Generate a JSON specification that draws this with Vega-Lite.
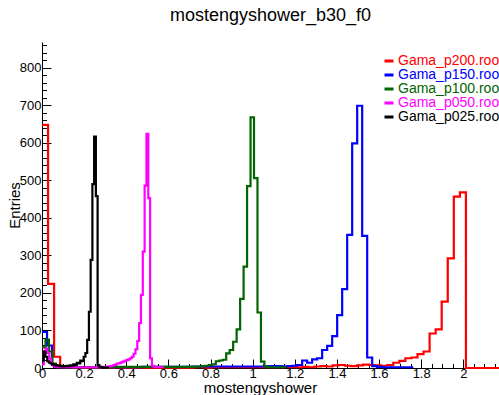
{
  "$schema": "https://vega.github.io/schema/vega-lite/v6.json",
  "width": 457,
  "height": 326,
  "autosize": "none",
  "padding": {"left": 42, "top": 42, "right": 0, "bottom": 27},
  "background": "white",
  "config": {"view": {"stroke": null}, "font": "Liberation Sans"},
  "title": {"text": "mostengyshower_b30_f0", "fontSize": 18, "font": "Liberation Sans", "fontWeight": "normal", "anchor": "middle", "offset": 17, "color": "black"},
  "data": {"values": [
    {"s": "Gama_p200.root", "x": 0, "n": 648},
    {"s": "Gama_p200.root", "x": 0.02875, "n": 224},
    {"s": "Gama_p200.root", "x": 0.0575, "n": 30},
    {"s": "Gama_p200.root", "x": 0.08625, "n": 3},
    {"s": "Gama_p200.root", "x": 0.115, "n": 2},
    {"s": "Gama_p200.root", "x": 0.14375, "n": 1},
    {"s": "Gama_p200.root", "x": 0.345, "n": 2},
    {"s": "Gama_p200.root", "x": 0.37375, "n": 1},
    {"s": "Gama_p200.root", "x": 0.71875, "n": 2},
    {"s": "Gama_p200.root", "x": 0.77625, "n": 1},
    {"s": "Gama_p200.root", "x": 0.805, "n": 2},
    {"s": "Gama_p200.root", "x": 1.15, "n": 3},
    {"s": "Gama_p200.root", "x": 1.17875, "n": 2},
    {"s": "Gama_p200.root", "x": 1.23625, "n": 3},
    {"s": "Gama_p200.root", "x": 1.265, "n": 2},
    {"s": "Gama_p200.root", "x": 1.29375, "n": 4},
    {"s": "Gama_p200.root", "x": 1.3225, "n": 5},
    {"s": "Gama_p200.root", "x": 1.35125, "n": 4},
    {"s": "Gama_p200.root", "x": 1.38, "n": 7},
    {"s": "Gama_p200.root", "x": 1.40875, "n": 8},
    {"s": "Gama_p200.root", "x": 1.4375, "n": 6},
    {"s": "Gama_p200.root", "x": 1.46625, "n": 5},
    {"s": "Gama_p200.root", "x": 1.495, "n": 7},
    {"s": "Gama_p200.root", "x": 1.52375, "n": 9},
    {"s": "Gama_p200.root", "x": 1.5525, "n": 8},
    {"s": "Gama_p200.root", "x": 1.58125, "n": 7},
    {"s": "Gama_p200.root", "x": 1.61, "n": 6},
    {"s": "Gama_p200.root", "x": 1.63875, "n": 8},
    {"s": "Gama_p200.root", "x": 1.6675, "n": 14},
    {"s": "Gama_p200.root", "x": 1.69625, "n": 19},
    {"s": "Gama_p200.root", "x": 1.725, "n": 26},
    {"s": "Gama_p200.root", "x": 1.75375, "n": 28},
    {"s": "Gama_p200.root", "x": 1.7825, "n": 37},
    {"s": "Gama_p200.root", "x": 1.81125, "n": 44},
    {"s": "Gama_p200.root", "x": 1.84, "n": 92},
    {"s": "Gama_p200.root", "x": 1.86875, "n": 103},
    {"s": "Gama_p200.root", "x": 1.8975, "n": 177},
    {"s": "Gama_p200.root", "x": 1.92625, "n": 292},
    {"s": "Gama_p200.root", "x": 1.955, "n": 457},
    {"s": "Gama_p200.root", "x": 1.98375, "n": 468},
    {"s": "Gama_p200.root", "x": 2.0125, "n": 0},
    {"s": "Gama_p200.root", "x": 2.3, "n": 0},

    {"s": "Gama_p150.root", "x": 0, "n": 96},
    {"s": "Gama_p150.root", "x": 0.02375, "n": 60},
    {"s": "Gama_p150.root", "x": 0.0475, "n": 8},
    {"s": "Gama_p150.root", "x": 0.07125, "n": 3},
    {"s": "Gama_p150.root", "x": 0.095, "n": 2},
    {"s": "Gama_p150.root", "x": 0.475, "n": 3},
    {"s": "Gama_p150.root", "x": 0.7125, "n": 4},
    {"s": "Gama_p150.root", "x": 1.06875, "n": 5},
    {"s": "Gama_p150.root", "x": 1.14, "n": 4},
    {"s": "Gama_p150.root", "x": 1.16375, "n": 5},
    {"s": "Gama_p150.root", "x": 1.1875, "n": 6},
    {"s": "Gama_p150.root", "x": 1.21125, "n": 8},
    {"s": "Gama_p150.root", "x": 1.235, "n": 20},
    {"s": "Gama_p150.root", "x": 1.25875, "n": 14},
    {"s": "Gama_p150.root", "x": 1.2825, "n": 23},
    {"s": "Gama_p150.root", "x": 1.30625, "n": 26},
    {"s": "Gama_p150.root", "x": 1.33, "n": 48},
    {"s": "Gama_p150.root", "x": 1.35375, "n": 59},
    {"s": "Gama_p150.root", "x": 1.3775, "n": 85},
    {"s": "Gama_p150.root", "x": 1.40125, "n": 141},
    {"s": "Gama_p150.root", "x": 1.425, "n": 210},
    {"s": "Gama_p150.root", "x": 1.44875, "n": 355},
    {"s": "Gama_p150.root", "x": 1.4725, "n": 599},
    {"s": "Gama_p150.root", "x": 1.49625, "n": 699},
    {"s": "Gama_p150.root", "x": 1.52, "n": 352},
    {"s": "Gama_p150.root", "x": 1.54375, "n": 28},
    {"s": "Gama_p150.root", "x": 1.5675, "n": 5},
    {"s": "Gama_p150.root", "x": 1.59125, "n": 3},
    {"s": "Gama_p150.root", "x": 1.615, "n": 2},
    {"s": "Gama_p150.root", "x": 1.7575, "n": 0},

    {"s": "Gama_p100.root", "x": 0, "n": 55},
    {"s": "Gama_p100.root", "x": 0.0165, "n": 76},
    {"s": "Gama_p100.root", "x": 0.033, "n": 44},
    {"s": "Gama_p100.root", "x": 0.0495, "n": 12},
    {"s": "Gama_p100.root", "x": 0.066, "n": 5},
    {"s": "Gama_p100.root", "x": 0.0825, "n": 3},
    {"s": "Gama_p100.root", "x": 0.099, "n": 2},
    {"s": "Gama_p100.root", "x": 0.33, "n": 3},
    {"s": "Gama_p100.root", "x": 0.726, "n": 4},
    {"s": "Gama_p100.root", "x": 0.759, "n": 5},
    {"s": "Gama_p100.root", "x": 0.7755, "n": 6},
    {"s": "Gama_p100.root", "x": 0.792, "n": 8},
    {"s": "Gama_p100.root", "x": 0.8085, "n": 10},
    {"s": "Gama_p100.root", "x": 0.825, "n": 18},
    {"s": "Gama_p100.root", "x": 0.8415, "n": 20},
    {"s": "Gama_p100.root", "x": 0.858, "n": 22},
    {"s": "Gama_p100.root", "x": 0.8745, "n": 39},
    {"s": "Gama_p100.root", "x": 0.891, "n": 48},
    {"s": "Gama_p100.root", "x": 0.9075, "n": 70},
    {"s": "Gama_p100.root", "x": 0.924, "n": 103},
    {"s": "Gama_p100.root", "x": 0.9405, "n": 184},
    {"s": "Gama_p100.root", "x": 0.957, "n": 270},
    {"s": "Gama_p100.root", "x": 0.9735, "n": 485},
    {"s": "Gama_p100.root", "x": 0.99, "n": 668},
    {"s": "Gama_p100.root", "x": 1.0065, "n": 506},
    {"s": "Gama_p100.root", "x": 1.023, "n": 148},
    {"s": "Gama_p100.root", "x": 1.0395, "n": 17},
    {"s": "Gama_p100.root", "x": 1.056, "n": 4},
    {"s": "Gama_p100.root", "x": 1.0725, "n": 2},
    {"s": "Gama_p100.root", "x": 1.155, "n": 0},

    {"s": "Gama_p050.root", "x": 0, "n": 10},
    {"s": "Gama_p050.root", "x": 0.0087, "n": 45},
    {"s": "Gama_p050.root", "x": 0.0174, "n": 52},
    {"s": "Gama_p050.root", "x": 0.0261, "n": 40},
    {"s": "Gama_p050.root", "x": 0.0348, "n": 25},
    {"s": "Gama_p050.root", "x": 0.0435, "n": 12},
    {"s": "Gama_p050.root", "x": 0.0522, "n": 6},
    {"s": "Gama_p050.root", "x": 0.0609, "n": 3},
    {"s": "Gama_p050.root", "x": 0.0696, "n": 2},
    {"s": "Gama_p050.root", "x": 0.2784, "n": 3},
    {"s": "Gama_p050.root", "x": 0.3045, "n": 4},
    {"s": "Gama_p050.root", "x": 0.3219, "n": 5},
    {"s": "Gama_p050.root", "x": 0.3306, "n": 6},
    {"s": "Gama_p050.root", "x": 0.3393, "n": 8},
    {"s": "Gama_p050.root", "x": 0.348, "n": 10},
    {"s": "Gama_p050.root", "x": 0.3567, "n": 12},
    {"s": "Gama_p050.root", "x": 0.3654, "n": 13},
    {"s": "Gama_p050.root", "x": 0.3741, "n": 15},
    {"s": "Gama_p050.root", "x": 0.3828, "n": 17},
    {"s": "Gama_p050.root", "x": 0.3915, "n": 19},
    {"s": "Gama_p050.root", "x": 0.4002, "n": 21},
    {"s": "Gama_p050.root", "x": 0.4089, "n": 23},
    {"s": "Gama_p050.root", "x": 0.4176, "n": 26},
    {"s": "Gama_p050.root", "x": 0.4263, "n": 30},
    {"s": "Gama_p050.root", "x": 0.435, "n": 38},
    {"s": "Gama_p050.root", "x": 0.4437, "n": 50},
    {"s": "Gama_p050.root", "x": 0.4524, "n": 72},
    {"s": "Gama_p050.root", "x": 0.4611, "n": 120},
    {"s": "Gama_p050.root", "x": 0.4698, "n": 195},
    {"s": "Gama_p050.root", "x": 0.4785, "n": 310},
    {"s": "Gama_p050.root", "x": 0.4872, "n": 486},
    {"s": "Gama_p050.root", "x": 0.4959, "n": 624},
    {"s": "Gama_p050.root", "x": 0.5046, "n": 453},
    {"s": "Gama_p050.root", "x": 0.5133, "n": 26},
    {"s": "Gama_p050.root", "x": 0.522, "n": 6},
    {"s": "Gama_p050.root", "x": 0.5307, "n": 3},
    {"s": "Gama_p050.root", "x": 0.5394, "n": 2},
    {"s": "Gama_p050.root", "x": 0.5742, "n": 0},

    {"s": "Gama_p025.root", "x": 0, "n": 20},
    {"s": "Gama_p025.root", "x": 0.00825, "n": 43},
    {"s": "Gama_p025.root", "x": 0.0165, "n": 30},
    {"s": "Gama_p025.root", "x": 0.02475, "n": 18},
    {"s": "Gama_p025.root", "x": 0.033, "n": 14},
    {"s": "Gama_p025.root", "x": 0.04125, "n": 12},
    {"s": "Gama_p025.root", "x": 0.0495, "n": 10},
    {"s": "Gama_p025.root", "x": 0.05775, "n": 8},
    {"s": "Gama_p025.root", "x": 0.066, "n": 6},
    {"s": "Gama_p025.root", "x": 0.07425, "n": 7},
    {"s": "Gama_p025.root", "x": 0.0825, "n": 5},
    {"s": "Gama_p025.root", "x": 0.09075, "n": 6},
    {"s": "Gama_p025.root", "x": 0.099, "n": 4},
    {"s": "Gama_p025.root", "x": 0.10725, "n": 5},
    {"s": "Gama_p025.root", "x": 0.1155, "n": 6},
    {"s": "Gama_p025.root", "x": 0.12375, "n": 5},
    {"s": "Gama_p025.root", "x": 0.132, "n": 7},
    {"s": "Gama_p025.root", "x": 0.14025, "n": 6},
    {"s": "Gama_p025.root", "x": 0.1485, "n": 10},
    {"s": "Gama_p025.root", "x": 0.15675, "n": 8},
    {"s": "Gama_p025.root", "x": 0.165, "n": 14},
    {"s": "Gama_p025.root", "x": 0.17325, "n": 12},
    {"s": "Gama_p025.root", "x": 0.1815, "n": 20},
    {"s": "Gama_p025.root", "x": 0.18975, "n": 18},
    {"s": "Gama_p025.root", "x": 0.198, "n": 30},
    {"s": "Gama_p025.root", "x": 0.20625, "n": 40},
    {"s": "Gama_p025.root", "x": 0.2145, "n": 75},
    {"s": "Gama_p025.root", "x": 0.22275, "n": 150},
    {"s": "Gama_p025.root", "x": 0.231, "n": 288},
    {"s": "Gama_p025.root", "x": 0.23925, "n": 490},
    {"s": "Gama_p025.root", "x": 0.2475, "n": 617},
    {"s": "Gama_p025.root", "x": 0.25575, "n": 458},
    {"s": "Gama_p025.root", "x": 0.264, "n": 8},
    {"s": "Gama_p025.root", "x": 0.27225, "n": 3},
    {"s": "Gama_p025.root", "x": 0.2805, "n": 2},
    {"s": "Gama_p025.root", "x": 0.28875, "n": 1},
    {"s": "Gama_p025.root", "x": 0.3135, "n": 0}
  ]},
  "layer": [
    {
      "mark": {"type": "line", "interpolate": "step-after", "strokeWidth": 2.2},
      "encoding": {
        "x": {"field": "x", "type": "quantitative",
          "scale": {"domain": [0, 2.1695], "nice": false, "zero": false},
          "axis": {"orient": "bottom", "values": [0, 0.2, 0.4, 0.6, 0.8, 1, 1.2, 1.4, 1.6, 1.8, 2], "format": "~g", "tickSize": -9, "tickColor": "black", "domainColor": "black", "grid": false,
            "labelFont": "Liberation Sans", "labelFontSize": 13, "labelColor": "black", "labelPadding": 8, "labelFlush": false, "labelOverlap": false,
            "title": "mostengyshower", "titleFont": "Liberation Sans", "titleFontSize": 15, "titleFontWeight": "normal", "titleColor": "black", "titleX": 218, "titleY": 24, "titleAlign": "center", "titleBaseline": "alphabetic"}},
        "y": {"field": "n", "type": "quantitative",
          "scale": {"domain": [0, 869], "nice": false},
          "axis": {"orient": "left", "values": [0, 100, 200, 300, 400, 500, 600, 700, 800], "tickSize": -9, "tickColor": "black", "domainColor": "black", "grid": false,
            "labelFont": "Liberation Sans", "labelFontSize": 13, "labelColor": "black", "labelPadding": 10, "labelFlush": false, "labelOverlap": false,
            "title": "Entries", "titleFont": "Liberation Sans", "titleFontSize": 15, "titleFontWeight": "normal", "titleColor": "black", "titleX": -23, "titleY": 163, "titleAngle": -90, "titleAlign": "center", "titleBaseline": "alphabetic"}},
        "color": {"field": "s", "type": "nominal",
          "scale": {"domain": ["Gama_p200.root", "Gama_p150.root", "Gama_p100.root", "Gama_p050.root", "Gama_p025.root"], "range": ["#ff0000", "#0000ff", "#006400", "#ff00ff", "#000000"]},
          "legend": {"orient": "none", "legendX": 340, "legendY": 12, "title": null, "padding": 0, "symbolType": "stroke", "symbolStrokeWidth": 3, "symbolSize": 81, "labelFontSize": 14, "labelFont": "Liberation Sans", "labelLimit": 400, "rowPadding": -1, "labelOffset": 2,
            "encode": {"labels": {"update": {"fill": {"signal": "scale('color', datum.value)"}}}}}}
      }
    },
    {
      "mark": {"type": "line", "opacity": 0},
      "encoding": {
        "x": {"field": "x", "type": "quantitative",
          "scale": {"domain": [0, 2.1695], "nice": false, "zero": false},
          "axis": {"orient": "bottom", "values": [0.05, 0.1, 0.15, 0.25, 0.3, 0.35, 0.45, 0.5, 0.55, 0.65, 0.7, 0.75, 0.85, 0.9, 0.95, 1.05, 1.1, 1.15, 1.25, 1.3, 1.35, 1.45, 1.5, 1.55, 1.65, 1.7, 1.75, 1.85, 1.9, 1.95, 2.05, 2.1, 2.15], "tickSize": -4.5, "tickColor": "black", "domain": false, "labels": false, "grid": false, "title": null}},
        "y": {"field": "n", "type": "quantitative",
          "scale": {"domain": [0, 869], "nice": false},
          "axis": {"orient": "left", "values": [20, 40, 60, 80, 120, 140, 160, 180, 220, 240, 260, 280, 320, 340, 360, 380, 420, 440, 460, 480, 520, 540, 560, 580, 620, 640, 660, 680, 720, 740, 760, 780, 820, 840, 860], "tickSize": -4.5, "tickColor": "black", "domain": false, "labels": false, "grid": false, "title": null}},
        "detail": {"field": "s", "type": "nominal"}
      }
    }
  ],
  "resolve": {"axis": {"x": "independent", "y": "independent"}}
}
